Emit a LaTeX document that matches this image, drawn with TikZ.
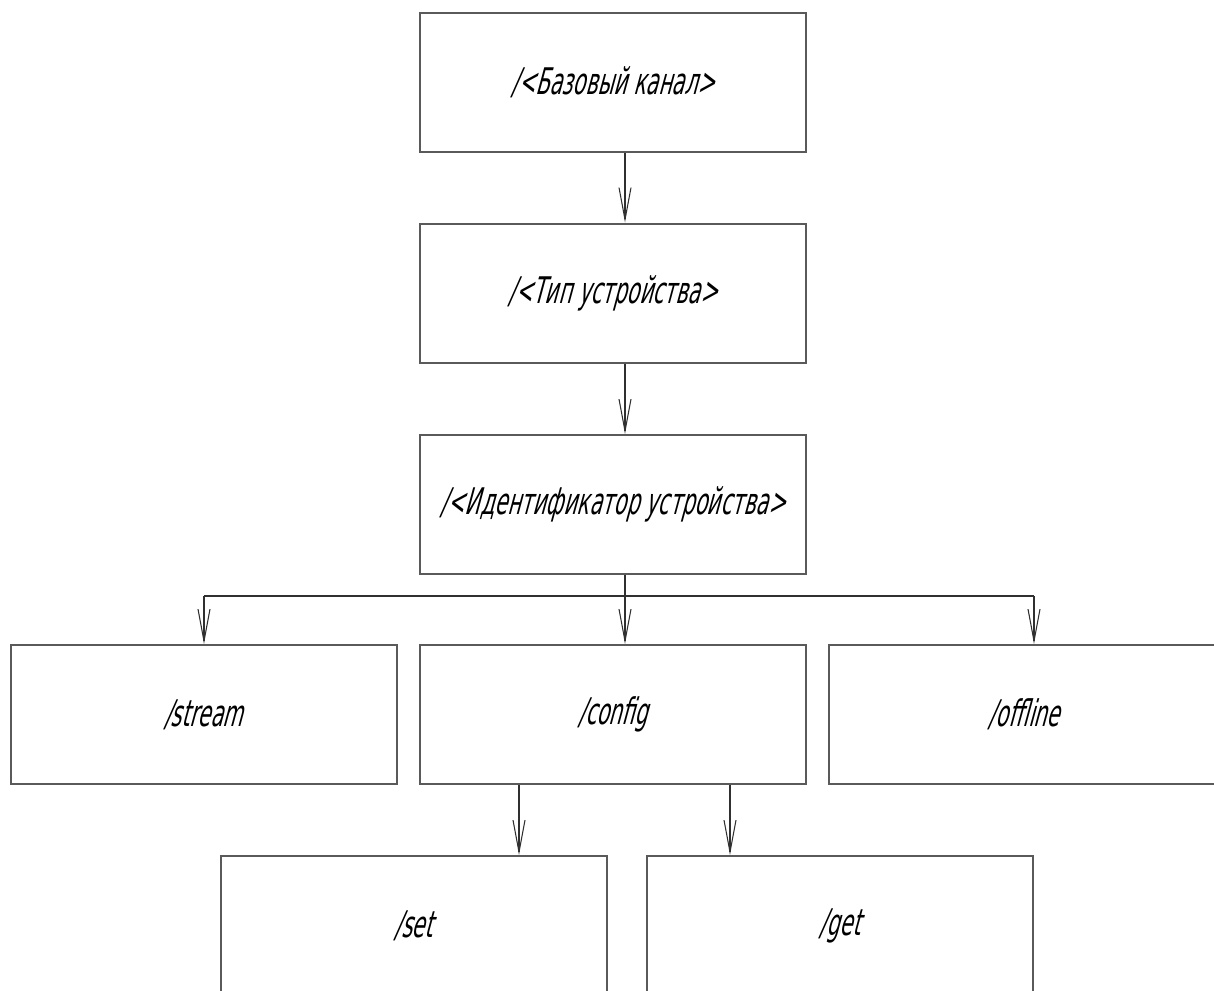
\documentclass[tikz,border=0pt]{standalone}
\usepackage{fontspec}
\setmainfont{DejaVu Sans}[FakeStretch=0.56, FakeSlant=0.27]
\usetikzlibrary{arrows.meta}
\definecolor{framegray}{HTML}{5A5A5A}
\definecolor{linegray}{HTML}{303030}
\begin{document}
\begin{tikzpicture}[x=0.75pt, y=-0.75pt,
  block/.style={draw=framegray, line width=1.5pt, minimum width=289.5pt,
    minimum height=104.25pt, inner sep=0pt, font=\fontsize{27.5}{32}\selectfont},
  link/.style={draw=linegray, line width=0.8pt},
  arr/.style={link, -{Straight Barb[length=24pt, width=9pt, line width=0.8pt]}}]
  \useasboundingbox (0,0) rectangle (1214,990);
  \clip (0,0) rectangle (1214,990);
  % main chain
  \node[block] (base)  at (613,82.5)  {/<Базовый канал>};
  \node[block] (type)  at (613,293)   {/<Тип устройства>};
  \node[block] (ident) at (613,504.5) {/<Идентификатор устройства>};
  % topic branches
  \node[block] (stream)  at (203.5,714.5) {/stream};
  \node[block] (config)  at (613,714.5)   {/config};
  \node[block, minimum width=292.5pt] (offline) at (1024,714.5) {/offline};
  \node[block] (set) at (413.5,925.5) {/set};
  \node[block] (get) at (840,925.5)   {/get};
  % connector positions
  \coordinate (main) at (625,0);
  \coordinate (bus)  at (625,596);
  \coordinate (busl) at (204,596);
  \coordinate (busr) at (1034,596);
  \coordinate (setx) at (519,0);
  \coordinate (getx) at (730,0);
  \draw[arr] (base.south -| main) -- (type.north -| main);
  \draw[arr] (type.south -| main) -- (ident.north -| main);
  \draw[link] (ident.south -| main) -- (bus);
  \draw[link] (busl) -- (busr);
  \draw[arr] (busl) -- (stream.north -| busl);
  \draw[arr] (bus) -- (config.north -| bus);
  \draw[arr] (busr) -- (offline.north -| busr);
  \draw[arr] (config.south -| setx) -- (set.north -| setx);
  \draw[arr] (config.south -| getx) -- (get.north -| getx);
\end{tikzpicture}
\end{document}
